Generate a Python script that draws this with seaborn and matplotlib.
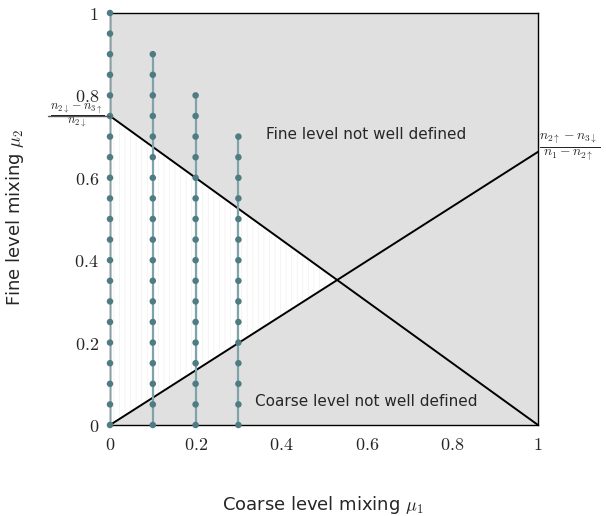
import numpy as np
import pandas as pd
import matplotlib
matplotlib.use("Agg")
import matplotlib.pyplot as plt
import seaborn as sns

# ---- data ----
col_x = [0.0, 0.1, 0.2, 0.3]
col_top = [1.0, 0.9, 0.8, 0.7]
mu2_levels = [0.0, 0.05, 0.10, 0.15, 0.20, 0.25, 0.30, 0.35, 0.40, 0.45, 0.50,
              0.55, 0.60, 0.65, 0.70, 0.75, 0.80, 0.85, 0.90, 0.95, 1.0]
line_x = [0.0, 1.0]
fine_line_y = [0.75, 0.0]      # fine level boundary
coarse_line_y = [0.0, 0.663]   # coarse level boundary
xticks = [0, 0.2, 0.4, 0.6, 0.8, 1]
xticklabels = ["0", "0.2", "0.4", "0.6", "0.8", "1"]
yticks = [0, 0.2, 0.4, 0.6, 0.8, 1]
yticklabels = ["0", "0.2", "0.4", "0.6", "0.8", "1"]

rows = []
for cx, top in zip(col_x, col_top):
    for lv in mu2_levels:
        if lv <= top + 1e-9:
            rows.append({"mu1": cx, "mu2": lv, "col": cx})
df = pd.DataFrame(rows)

sns.set_theme(style="white")
plt.rcParams["font.family"] = ["DejaVu Sans"]
plt.rcParams["mathtext.fontset"] = "cm"
plt.rcParams["hatch.linewidth"] = 0.5

fig = plt.figure(figsize=(6.06, 5.16), dpi=100)
ax = fig.add_axes([110/606, 91/516, 428/606, 412/516])
ax.set_facecolor("#e0e0e0")

# white region between lines
xs = np.linspace(0, 1, 401)
fy = np.interp(xs, line_x, fine_line_y)
cy = np.interp(xs, line_x, coarse_line_y)
ax.fill_between(xs, cy, fy, where=fy >= cy, interpolate=True,
                facecolor="white", edgecolor="#f0f0f0", hatch="|||", linewidth=0, zorder=1)

ax.plot(line_x, fine_line_y, color="black", lw=1.4, zorder=3)
ax.plot(line_x, coarse_line_y, color="black", lw=1.4, zorder=3)

sns.lineplot(data=df, x="mu1", y="mu2", units="col", estimator=None,
             color="#7fa3a8", lw=1.6, ax=ax, zorder=4, legend=False)
sns.scatterplot(data=df, x="mu1", y="mu2", color="#4e7c82", s=22,
                edgecolor="none", ax=ax, zorder=5, legend=False, clip_on=False)

ax.set_xlim(0, 1)
ax.set_ylim(0, 1)
ax.set_xticks(xticks)
ax.set_xticklabels(["$" + t + "$" for t in xticklabels], fontsize=13)
ax.set_yticks(yticks)
ax.set_yticklabels(["$" + t + "$" for t in yticklabels], fontsize=13)
ax.tick_params(length=0, pad=8)
for sp in ax.spines.values():
    sp.set_color("black")
    sp.set_linewidth(1.0)

ax.set_xlabel(r"Coarse level mixing $\mu_1$", fontsize=13)
ax.set_ylabel(r"Fine level mixing $\mu_2$", fontsize=13)
ax.xaxis.set_label_coords(0.497, -0.168)
ax.yaxis.set_label_coords(-0.197, 0.505)

ax.text(0.598, 0.706, "Fine level not well defined", ha="center", va="center", fontsize=11, zorder=6)
ax.text(0.598, 0.056, "Coarse level not well defined", ha="center", va="center", fontsize=11, zorder=6)

# boundary annotations
ax.plot([-0.145, 0], [fine_line_y[0]] * 2, color="#555555", lw=1.0, clip_on=False, zorder=6)
ax.text(-0.075, fine_line_y[0], r"$\frac{n_{2\downarrow}-n_{3\uparrow}}{n_{2\downarrow}}$",
        ha="center", va="center", fontsize=12.5, zorder=6)
ax.text(1.003, coarse_line_y[1] + 0.01, r"$\frac{n_{2\uparrow}-n_{3\downarrow}}{n_1-n_{2\uparrow}}$",
        ha="left", va="center", fontsize=14, zorder=6)

fig.savefig("out.png", dpi=100)
